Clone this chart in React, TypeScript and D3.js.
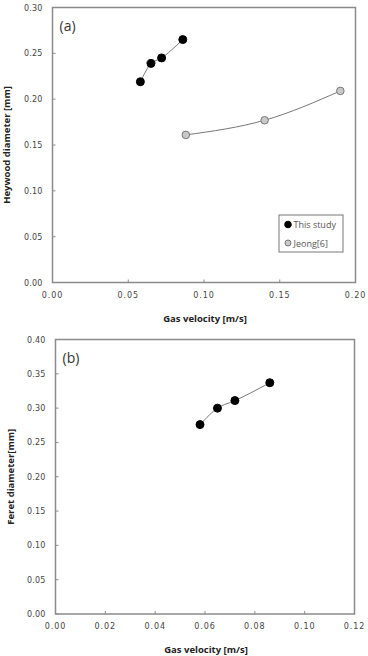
import React from "react";
import * as d3 from "d3";

// panel (a) - Heywood diameter
const studyVelA = [0.058, 0.065, 0.072, 0.086];
const studyHeywood = [0.219, 0.239, 0.245, 0.265];
const jeongVel = [0.088, 0.14, 0.19];
const jeongHeywood = [0.161, 0.177, 0.209];
const xTicksA = [0, 0.05, 0.1, 0.15, 0.2];
const yTicksA = [0, 0.05, 0.1, 0.15, 0.2, 0.25, 0.3];

// panel (b) - Feret diameter
const studyVelB = [0.058, 0.065, 0.072, 0.086];
const studyFeret = [0.276, 0.3, 0.311, 0.337];
const xTicksB = [0, 0.02, 0.04, 0.06, 0.08, 0.1, 0.12];
const yTicksB = [0, 0.05, 0.1, 0.15, 0.2, 0.25, 0.3, 0.35, 0.4];

const legendLabels = ["This study", "Jeong[6]"];

const tickFont = "DejaVu Sans, sans-serif";
const titleFont = "Open Sans, Liberation Sans, sans-serif";
const frame = "#8a8a8a";
const lineColor = "#777";

type Series = { xs: number[]; ys: number[]; fill: string; stroke: string; r: number };

const Panel = ({
  box,
  xDomain,
  yDomain,
  xTicks,
  yTicks,
  series,
  tag,
  yTitle,
  yTitleX,
  showLegend,
}: {
  box: { left: number; right: number; top: number; bottom: number };
  xDomain: [number, number];
  yDomain: [number, number];
  xTicks: number[];
  yTicks: number[];
  series: Series[];
  tag: string;
  yTitle: string;
  yTitleX: number;
  showLegend: boolean;
}) => {
  const x = d3.scaleLinear().domain(xDomain).range([box.left, box.right]);
  const y = d3.scaleLinear().domain(yDomain).range([box.bottom, box.top]);
  const fmt = d3.format(".2f");
  const line = d3
    .line<[number, number]>()
    .x((d) => x(d[0]))
    .y((d) => y(d[1]))
    .curve(d3.curveNatural);

  return (
    <g>
      <rect
        x={box.left}
        y={box.top}
        width={box.right - box.left}
        height={box.bottom - box.top}
        fill="none"
        stroke={frame}
        strokeWidth={1.5}
      />
      {/* ticks pointing inward */}
      {xTicks.map((t) => (
        <g key={"x" + t}>
          <line x1={x(t)} x2={x(t)} y1={box.bottom} y2={box.bottom - 3} stroke={frame} />
          <text
            x={x(t)}
            y={box.bottom + 15}
            textAnchor="middle"
            fontSize={8}
            letterSpacing={0.9}
            fontFamily={tickFont}
            fill="#444"
          >
            {fmt(t)}
          </text>
        </g>
      ))}
      {yTicks.map((t) => (
        <g key={"y" + t}>
          <line x1={box.left} x2={box.left + 3} y1={y(t)} y2={y(t)} stroke={frame} />
          <text
            x={box.left - 10}
            y={y(t) + 3}
            textAnchor="end"
            fontSize={8}
            letterSpacing={0.2}
            fontFamily={tickFont}
            fill="#444"
          >
            {fmt(t)}
          </text>
        </g>
      ))}
      <text
        x={(box.left + box.right) / 2 + 1}
        y={box.bottom + 39}
        textAnchor="middle"
        fontSize={9.5}
        fontWeight="bold"
        fontFamily={titleFont}
        fill="#222"
      >
        Gas velocity [m/s]
      </text>
      <text
        transform={`translate(${yTitleX},${(box.top + box.bottom) / 2}) rotate(-90)`}
        textAnchor="middle"
        fontSize={9.5}
        fontWeight="bold"
        fontFamily={titleFont}
        fill="#222"
      >
        {yTitle}
      </text>
      <text x={box.left + 7} y={box.top + 23} fontSize={14} fontFamily={titleFont} fill="#333">
        {tag}
      </text>
      {series.map((s, i) => {
        const pts = s.xs.map((v, j) => [v, s.ys[j]] as [number, number]);
        return (
          <g key={i}>
            <path d={line(pts) || ""} fill="none" stroke={lineColor} strokeWidth={1} />
            {pts.map((p, j) => (
              <circle key={j} cx={x(p[0])} cy={y(p[1])} r={s.r} fill={s.fill} stroke={s.stroke} strokeWidth={1} />
            ))}
          </g>
        );
      })}
      {showLegend && (
        <g>
          <rect x={279} y={215} width={64} height={37} fill="#fff" stroke="#777" strokeWidth={1} />
          {legendLabels.map((lab, i) => (
            <g key={lab}>
              <circle
                cx={288}
                cy={224.5 + i * 18.5}
                r={i === 0 ? 3.3 : 3}
                fill={series[i].fill}
                stroke={series[i].stroke}
                strokeWidth={1}
              />
              <text x={293.5} y={228 + i * 18.5} fontSize={9} fontFamily={titleFont} fill="#555">
                {lab}
              </text>
            </g>
          ))}
        </g>
      )}
    </g>
  );
};

export default function App() {
  return (
    <svg
      width={368}
      height={656}
      style={{ position: "absolute", left: 0, top: 0, background: "#fff" }}
    >
      <Panel
        box={{ left: 52.5, right: 355.5, top: 7.5, bottom: 282.5 }}
        xDomain={[0, 0.2]}
        yDomain={[0, 0.3]}
        xTicks={xTicksA}
        yTicks={yTicksA}
        series={[
          { xs: studyVelA, ys: studyHeywood, fill: "#000", stroke: "#000", r: 4 },
          { xs: jeongVel, ys: jeongHeywood, fill: "#c8c8c8", stroke: "#777", r: 3.8 },
        ]}
        tag="(a)"
        yTitle="Heywood diameter [mm]"
        yTitleX={10}
        showLegend={true}
      />
      <Panel
        box={{ left: 55.5, right: 354.5, top: 339.5, bottom: 614 }}
        xDomain={[0, 0.12]}
        yDomain={[0, 0.4]}
        xTicks={xTicksB}
        yTicks={yTicksB}
        series={[{ xs: studyVelB, ys: studyFeret, fill: "#000", stroke: "#000", r: 4 }]}
        tag="(b)"
        yTitle="Feret diameter[mm]"
        yTitleX={14}
        showLegend={false}
      />
    </svg>
  );
}
